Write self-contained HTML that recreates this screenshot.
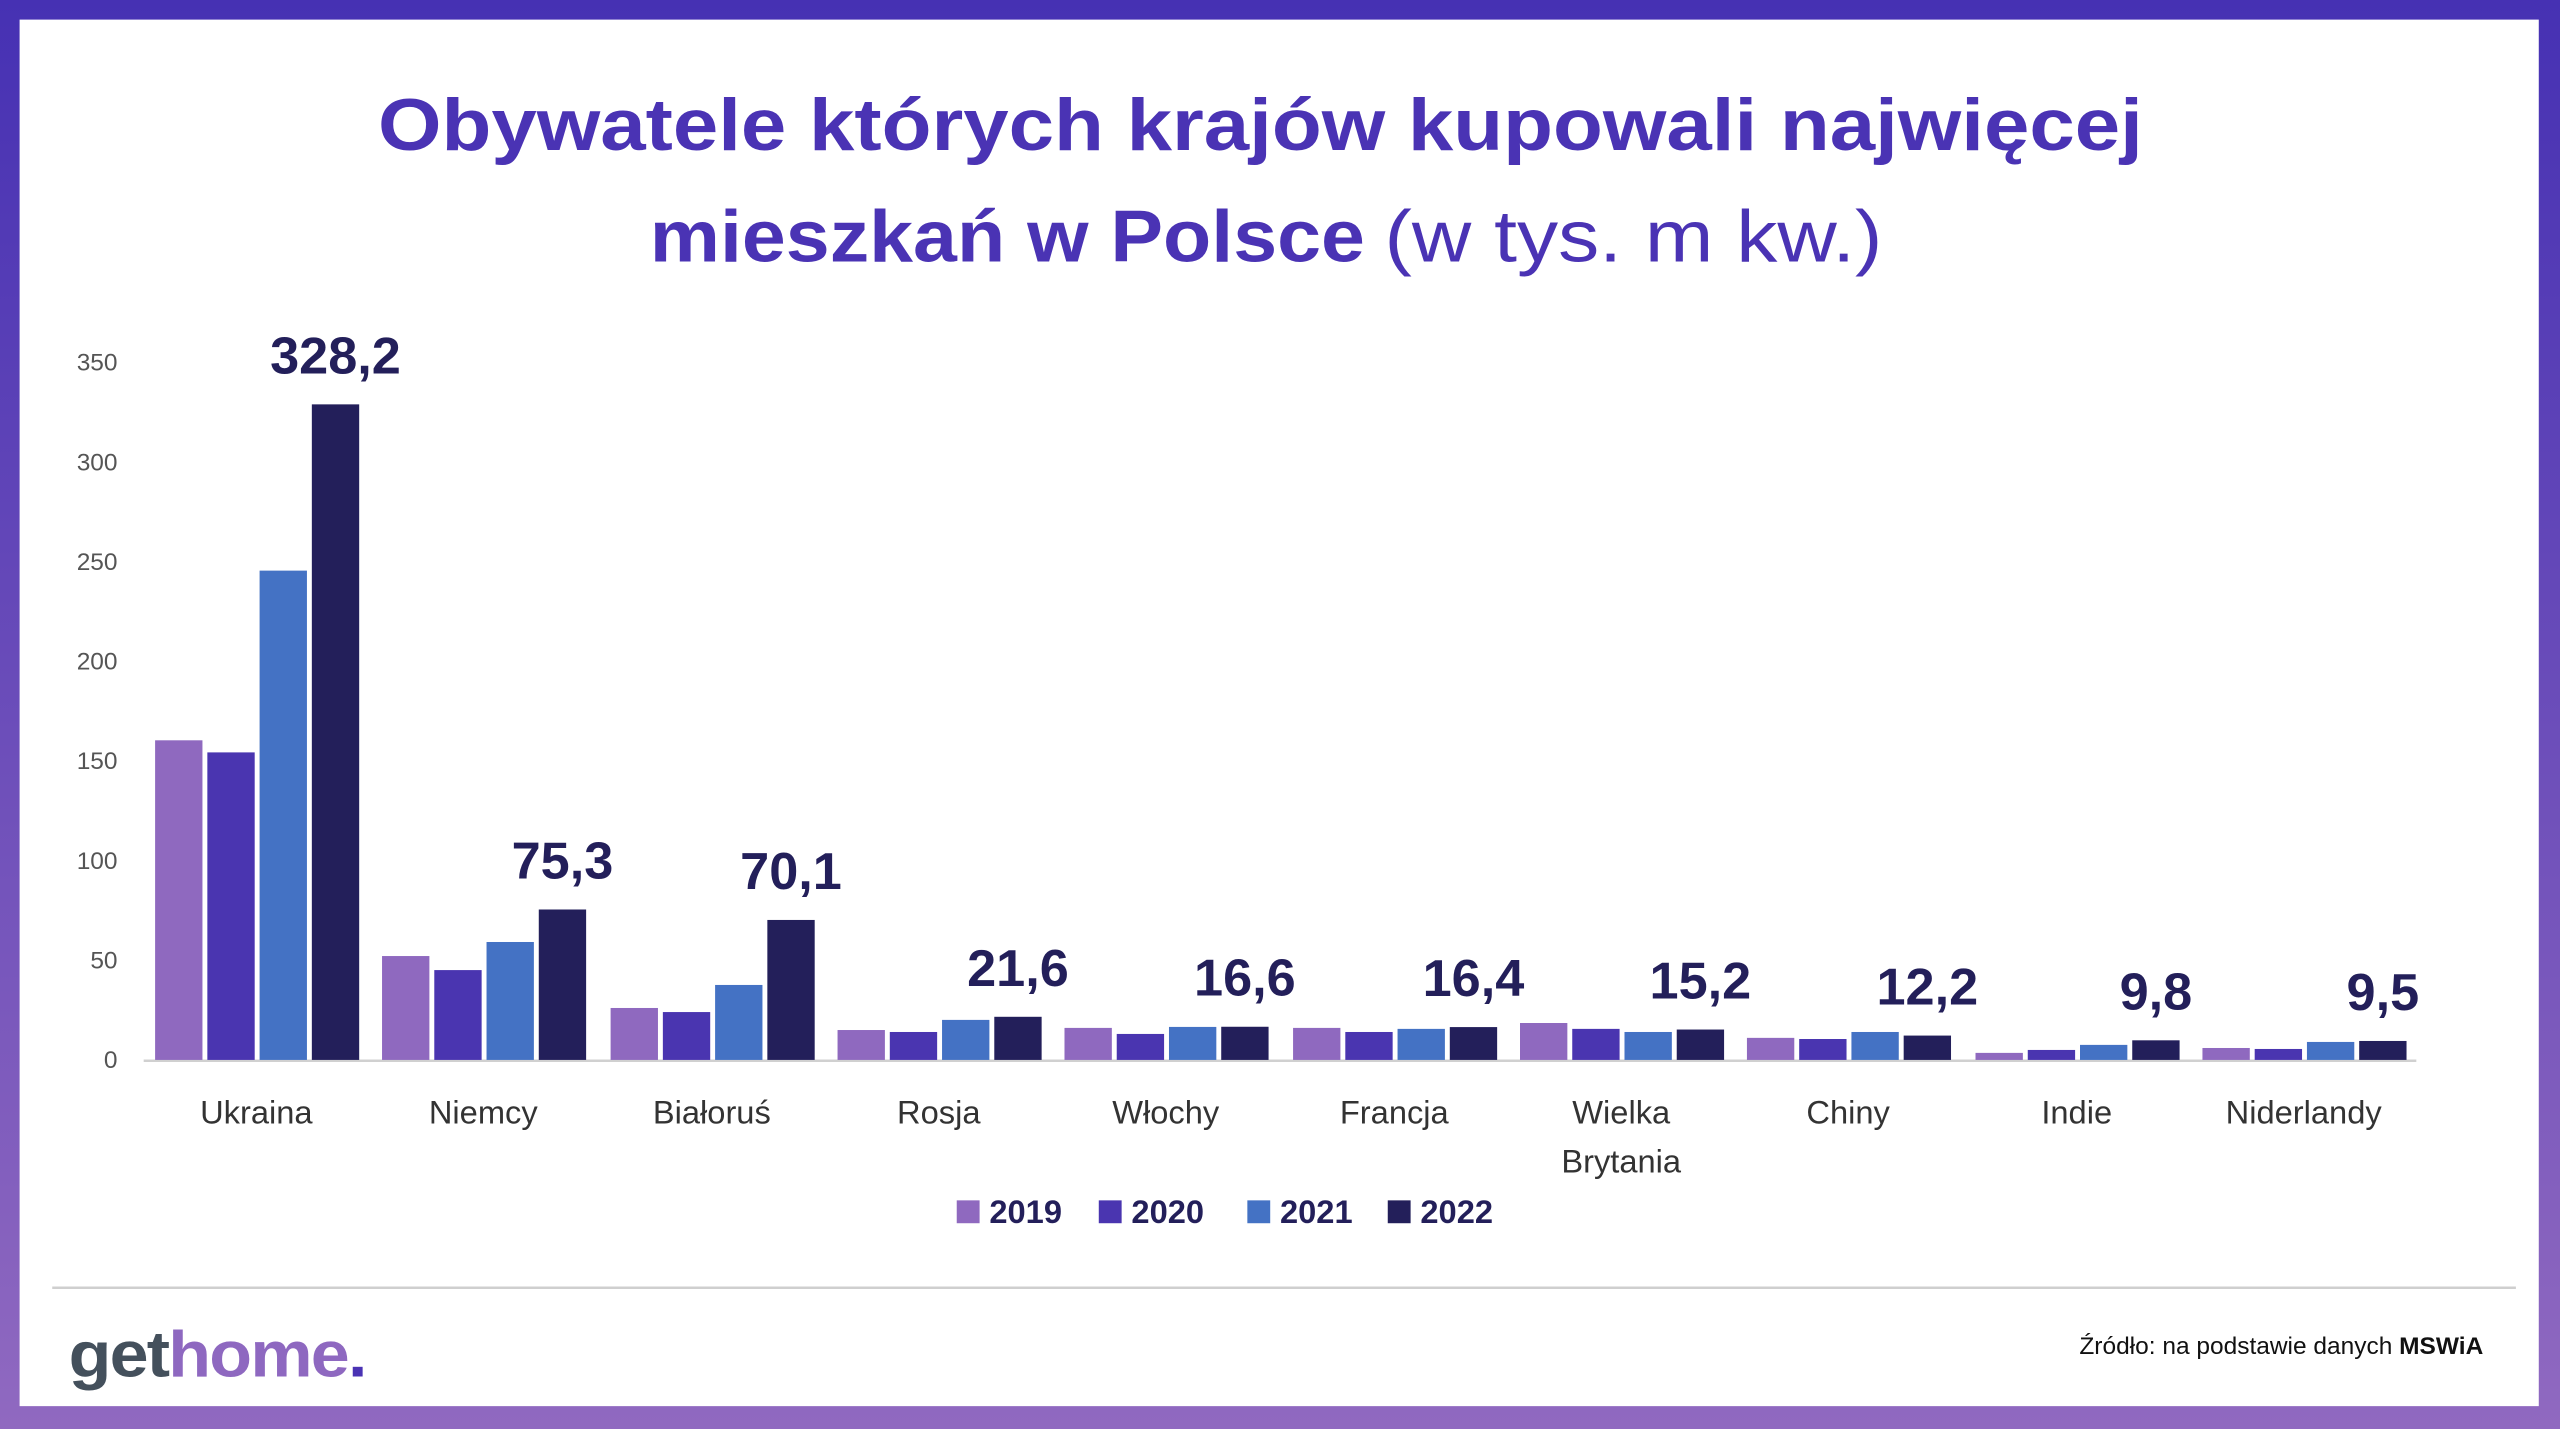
<!DOCTYPE html>
<html><head><meta charset="utf-8"><style>
html,body{margin:0;padding:0;background:#fff;}
svg{display:block;}
text{font-family:"Liberation Sans",sans-serif;}
</style></head><body>
<svg width="2560" height="1429" viewBox="0 0 1568 875" preserveAspectRatio="none" xmlns="http://www.w3.org/2000/svg">
<defs><linearGradient id="g" x1="0" y1="0" x2="0" y2="1"><stop offset="0" stop-color="#4631b3"/><stop offset="1" stop-color="#9069c0"/></linearGradient></defs>
<rect x="0" y="0" width="1568" height="875" fill="url(#g)"/>
<rect x="12" y="12" width="1543" height="849" fill="#fff"/>
<text x="772" y="92" text-anchor="middle" font-size="45" font-weight="bold" fill="#4a33b4" textLength="1081" lengthAdjust="spacingAndGlyphs">Obywatele których krajów kupowali najwięcej</text>
<text x="398" y="160" font-size="45" font-weight="bold" fill="#4a33b4" textLength="438" lengthAdjust="spacingAndGlyphs">mieszkań w Polsce</text>
<text x="848" y="160" font-size="45" fill="#4a33b4" textLength="305" lengthAdjust="spacingAndGlyphs">(w tys. m kw.)</text>
<g font-size="15" fill="#555" text-anchor="end">
<text x="72" y="654">0</text><text x="72" y="593">50</text><text x="72" y="532">100</text><text x="72" y="471">150</text><text x="72" y="410">200</text><text x="72" y="349">250</text><text x="72" y="288">300</text><text x="72" y="227">350</text>
</g>
<line x1="88" y1="649.5" x2="1480" y2="649.5" stroke="#d0d0d0" stroke-width="1.5"/>
<g fill="#8f69bf">
<rect x="95" y="453.3" width="29" height="195.7"/><rect x="234" y="585.4" width="29" height="63.6"/><rect x="374" y="617.2" width="29" height="31.8"/><rect x="513" y="630.7" width="29" height="18.3"/><rect x="652" y="629.4" width="29" height="19.6"/><rect x="792" y="629.4" width="29" height="19.6"/><rect x="931" y="626.4" width="29" height="22.6"/><rect x="1070" y="635.5" width="29" height="13.5"/><rect x="1210" y="644.7" width="29" height="4.3"/><rect x="1349" y="641.7" width="29" height="7.3"/>
</g>
<g fill="#4a35b0">
<rect x="127" y="460.7" width="29" height="188.3"/><rect x="266" y="594" width="29" height="55"/><rect x="406" y="619.7" width="29" height="29.3"/><rect x="545" y="631.9" width="29" height="17.1"/><rect x="684" y="633.1" width="29" height="15.9"/><rect x="824" y="631.9" width="29" height="17.1"/><rect x="963" y="630" width="29" height="19"/><rect x="1102" y="636.2" width="29" height="12.8"/><rect x="1242" y="642.9" width="29" height="6.1"/><rect x="1381" y="642.3" width="29" height="6.7"/>
</g>
<g fill="#4472c4">
<rect x="159" y="349.4" width="29" height="299.6"/><rect x="298" y="576.8" width="29" height="72.2"/><rect x="438" y="603.1" width="29" height="45.9"/><rect x="577" y="624.5" width="29" height="24.5"/><rect x="716" y="628.8" width="29" height="20.2"/><rect x="856" y="630" width="29" height="19"/><rect x="995" y="631.9" width="29" height="17.1"/><rect x="1134" y="631.9" width="29" height="17.1"/><rect x="1274" y="639.8" width="29" height="9.2"/><rect x="1413" y="638" width="29" height="11"/>
</g>
<g fill="#231f5a">
<rect x="191" y="247.6" width="29" height="401.4"/><rect x="330" y="556.9" width="29" height="92.1"/><rect x="470" y="563.3" width="29" height="85.7"/><rect x="609" y="622.6" width="29" height="26.4"/><rect x="748" y="628.7" width="29" height="20.3"/><rect x="888" y="628.9" width="29" height="20.1"/><rect x="1027" y="630.4" width="29" height="18.6"/><rect x="1166" y="634.1" width="29" height="14.9"/><rect x="1306" y="637" width="29" height="12"/><rect x="1445" y="637.4" width="29" height="11.6"/>
</g>
<g font-size="32" font-weight="bold" fill="#231f5a" text-anchor="middle">
<text x="205.5" y="228.6">328,2</text><text x="344.5" y="537.9">75,3</text><text x="484.5" y="544.3">70,1</text><text x="623.5" y="603.6">21,6</text><text x="762.5" y="609.7">16,6</text><text x="902.5" y="609.9">16,4</text><text x="1041.5" y="611.4">15,2</text><text x="1180.5" y="615.1">12,2</text><text x="1320.5" y="618">9,8</text><text x="1459.5" y="618.4">9,5</text>
</g>
<g font-size="20" fill="#333" text-anchor="middle">
<text x="157" y="688">Ukraina</text><text x="296" y="688">Niemcy</text><text x="436" y="688">Białoruś</text><text x="575" y="688">Rosja</text><text x="714" y="688">Włochy</text><text x="854" y="688">Francja</text><text x="993" y="688">Wielka</text><text x="993" y="718">Brytania</text><text x="1132" y="688">Chiny</text><text x="1272" y="688">Indie</text><text x="1411" y="688">Niderlandy</text>
</g>
<g font-size="20" font-weight="bold" fill="#231f5a">
<rect x="586" y="735" width="14" height="14" fill="#8f69bf"/><text x="606" y="749">2019</text>
<rect x="673" y="735" width="14" height="14" fill="#4a35b0"/><text x="693" y="749">2020</text>
<rect x="764" y="735" width="14" height="14" fill="#4472c4"/><text x="784" y="749">2021</text>
<rect x="850" y="735" width="14" height="14" fill="#231f5a"/><text x="870" y="749">2022</text>
</g>
<line x1="32" y1="788.5" x2="1541" y2="788.5" stroke="#cfcfcf" stroke-width="1.5"/>
<text x="42" y="843" font-size="40" font-weight="bold" letter-spacing="-1" textLength="182" lengthAdjust="spacingAndGlyphs"><tspan fill="#44505c">get</tspan><tspan fill="#8e68c0">home</tspan><tspan fill="#4a33b4">.</tspan></text>
<text x="1521" y="829" font-size="15" fill="#111" text-anchor="end">Źródło: na podstawie danych <tspan font-weight="bold">MSWiA</tspan></text>
</svg>
</body></html>
